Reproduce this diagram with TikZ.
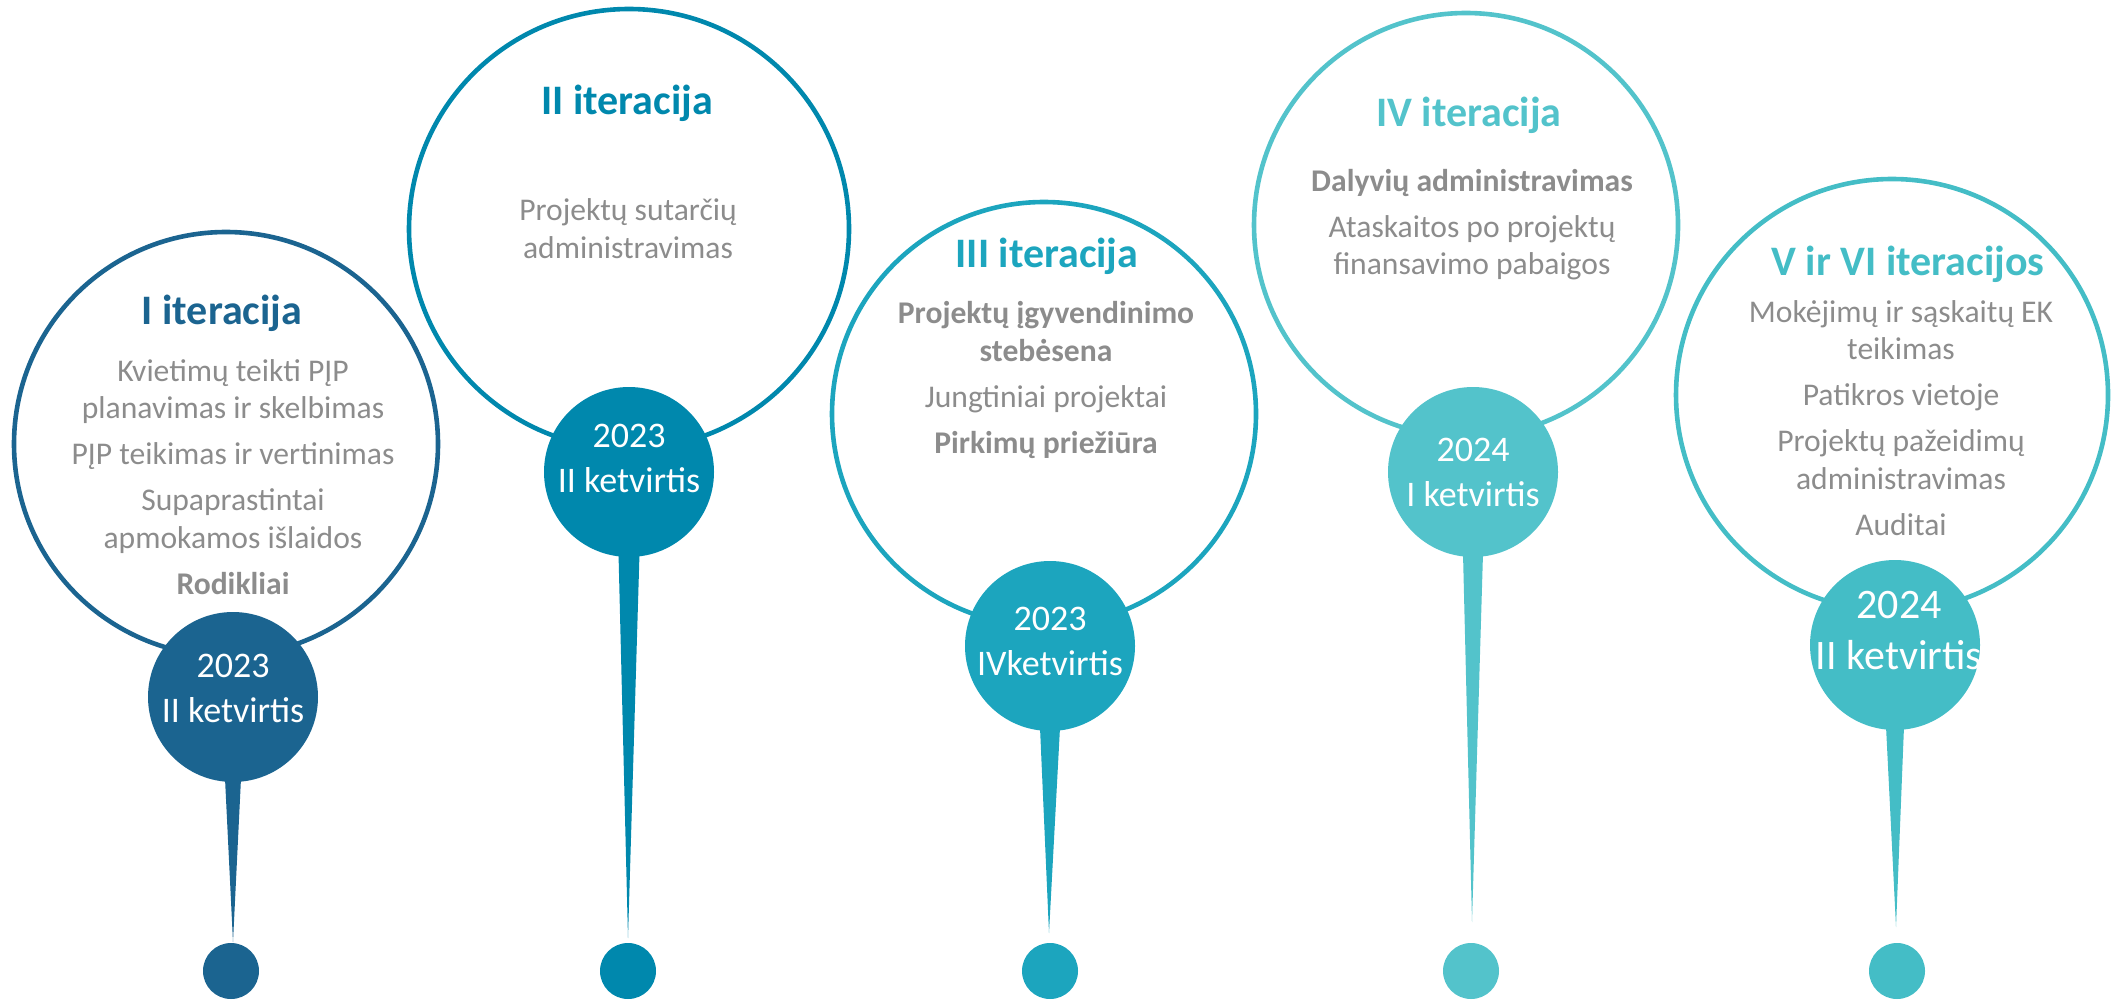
\documentclass[tikz,border=0pt]{standalone}
\usepackage{fontspec}
\setmainfont{Carlito}
\usetikzlibrary{calc}
\definecolor{itA}{HTML}{1B6490}
\definecolor{itB}{HTML}{0088AD}
\definecolor{itC}{HTML}{1CA5BE}
\definecolor{itD}{HTML}{53C3CB}
\definecolor{itE}{HTML}{44BDC6}
\definecolor{txtgray}{HTML}{8C8C8C}

\begin{document}
\begin{tikzpicture}[x=0.5pt,y=-0.5pt,
    ring/.style={circle,draw=#1,line width=2.3pt,inner sep=0pt},
    date/.style={circle,fill=#1,minimum size=85pt,inner sep=0pt},
    dot/.style={circle,fill=#1,minimum size=28pt,inner sep=0pt},
    ttl/.style={font=\fontsize{21}{25}\selectfont\bfseries,text=#1,anchor=base,inner sep=0pt},
    body/.style={font=\fontsize{15.8}{18.75}\selectfont,text=txtgray,align=center,anchor=base,inner sep=0pt},
    datetxt/.style={font=\fontsize{18}{22.5}\selectfont,text=white,align=center,anchor=base,inner sep=0pt}]
  \useasboundingbox (0,0) rectangle (2114,1000);

  % I iteracija (base = last line)
  \node[ring=itA,minimum size=212pt] (r1) at (226,444) {};
  \node[ttl=itA] (h1) at (222,324) {I iteracija};
  \node[body] (b1) at (233,594) {Kvietimų teikti PĮP\\planavimas ir skelbimas\\[4.25pt]PĮP teikimas ir vertinimas\\[4.25pt]Supaprastintai\\apmokamos išlaidos\\[4.25pt]\textbf{Rodikliai}};
  \node[date=itA] (d1) at (233,697) {};
  \node[datetxt] (q1) at (233,722) {2023\\II ketvirtis};
  \coordinate (t1) at (233,942);
  \node[dot=itA] (p1) at (231,971) {};
  \fill[itA] ($(d1.south)+(-8,-4)$) -- (t1) -- ($(d1.south)+(8,-4)$) -- cycle;

  % II iteracija
  \node[ring=itB,minimum size=220pt] (r2) at (629,229) {};
  \node[ttl=itB] (h2) at (627,115) {II iteracija};
  \node[body] (b2) at (628,258) {Projektų sutarčių\\administravimas};
  \node[date=itB] (d2) at (629,472) {};
  \node[datetxt] (q2) at (629,492) {2023\\II ketvirtis};
  \coordinate (t2) at (628,938);
  \node[dot=itB] (p2) at (628,971) {};
  \fill[itB] ($(d2.south)+(-10.5,-4)$) -- (t2) -- ($(d2.south)+(10.5,-4)$) -- cycle;

  % III iteracija
  \node[ring=itC,minimum size=212pt] (r3) at (1044,414) {};
  \node[ttl=itC] (h3) at (1047,268) {III iteracija};
  \node[body] (b3) at (1046,453) {\textbf{Projektų įgyvendinimo}\\\textbf{stebėsena}\\[4.25pt]Jungtiniai projektai\\[4.25pt]\textbf{Pirkimų priežiūra}};
  \node[date=itC] (d3) at (1050,646) {};
  \node[datetxt] (q3) at (1050,675) {2023\\IVketvirtis};
  \coordinate (t3) at (1049,933);
  \node[dot=itC] (p3) at (1050,971) {};
  \fill[itC] ($(d3.south)+(-10,-4)$) -- (t3) -- ($(d3.south)+(10,-4)$) -- cycle;

  % IV iteracija
  \node[ring=itD,minimum size=212pt] (r4) at (1466,225) {};
  \node[ttl=itD] (h4) at (1469,127) {IV iteracija};
  \node[body] (b4) at (1472,275) {\textbf{Dalyvių administravimas}\\[4.25pt]Ataskaitos po projektų\\finansavimo pabaigos};
  \node[date=itD] (d4) at (1473,472) {};
  \node[datetxt] (q4) at (1473,506) {2024\\I ketvirtis};
  \coordinate (t4) at (1472,922);
  \node[dot=itD] (p4) at (1471,971) {};
  \fill[itD] ($(d4.south)+(-10,-4)$) -- (t4) -- ($(d4.south)+(10,-4)$) -- cycle;

  % V ir VI iteracijos
  \node[ring=itE,minimum size=216pt] (r5) at (1892,395) {};
  \node[ttl=itE] (h5) at (1908,276) {V ir VI iteracijos};
  \node[body] (b5) at (1901,535) {Mokėjimų ir sąskaitų EK\\teikimas\\[4.25pt]Patikros vietoje\\[4.25pt]Projektų pažeidimų\\administravimas\\[4.25pt]Auditai};
  \node[date=itE] (d5) at (1895,645) {};
  \node[datetxt,font=\fontsize{21}{25.5}\selectfont] (q5) at (1899,669) {2024\\II ketvirtis};
  \coordinate (t5) at (1896,927);
  \node[dot=itE] (p5) at (1897,971) {};
  \fill[itE] ($(d5.south)+(-9,-4)$) -- (t5) -- ($(d5.south)+(9,-4)$) -- cycle;
\end{tikzpicture}
\end{document}
